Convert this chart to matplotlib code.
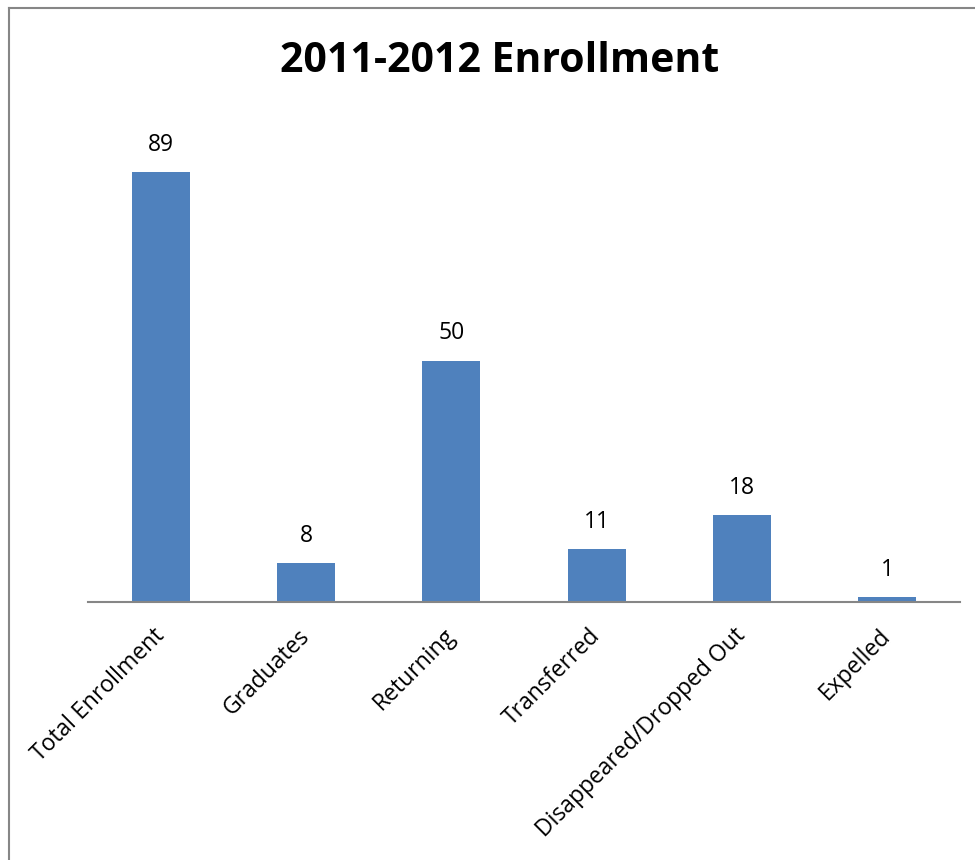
import matplotlib.pyplot as plt
from matplotlib.lines import Line2D

categories = ['Total Enrollment', 'Graduates', 'Returning', 'Transferred',
              'Disappeared/Dropped Out', 'Expelled']
counts = [89, 8, 50, 11, 18, 1]

plt.rcParams['font.family'] = ['Open Sans', 'DejaVu Sans']

fig = plt.figure(figsize=(9.75, 8.6), dpi=100)
ax = fig.add_axes([0.0903, 0.3, 0.8943, 0.5616])

x = range(len(categories))
bars = ax.bar(x, counts, width=0.4, color='#4F81BD')
ax.set_xlim(-0.5, len(categories) - 0.5)
ax.set_ylim(0, 100)

# value labels above bars
for b, v in zip(bars, counts):
    ax.annotate(str(v), (b.get_x() + b.get_width() / 2, v),
                xytext=(0, 11), textcoords='offset points',
                ha='center', va='bottom', fontsize=16.5)

ax.set_xticks(list(x))
ax.set_xticklabels(categories, rotation=45, ha='right', va='center',
                   rotation_mode='anchor', fontsize=16.5)
ax.tick_params(axis='x', length=0, pad=22)
ax.set_yticks([])

for s in ['top', 'right', 'left']:
    ax.spines[s].set_visible(False)
ax.spines['bottom'].set_color('#868686')
ax.spines['bottom'].set_linewidth(1.5)

fig.suptitle('2011-2012 Enrollment', fontsize=29.5, fontweight='bold',
             x=0.512, y=0.952)

# chart frame (left and top edges visible)
fig.add_artist(Line2D([0.0097, 0.0097], [0, 0.9907], color='#868686', lw=1.5))
fig.add_artist(Line2D([0.0097, 1.0], [0.9907, 0.9907], color='#868686', lw=1.5))

fig.savefig('out.png', dpi=100)
